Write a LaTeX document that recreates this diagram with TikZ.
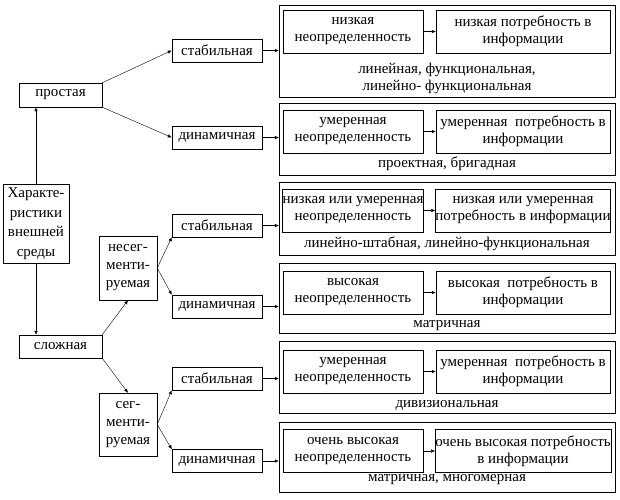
\documentclass[tikz,border=0pt]{standalone}
\usepackage{fontspec}
\setmainfont{Liberation Serif}
\usetikzlibrary{arrows.meta}

\begin{document}
\begin{tikzpicture}[x=1pt,y=-1pt,
  every node/.style={font=\fontsize{15}{17}\selectfont,align=center,inner sep=0pt},
  kind/.style={draw,minimum width=90,minimum height=23},
  outer/.style={draw,minimum width=336},
  lbox/.style={draw,minimum width=140,minimum height=43},
  rbox/.style={draw,minimum width=174,minimum height=43},
  arr/.style={-{Latex[length=4pt,width=3.5pt]}}]

  \useasboundingbox (0,0) rectangle (620,499);

  \node[draw,minimum width=66,minimum height=79,font=\fontsize{15}{19.5}\selectfont] (env) at (36,223.5) {Характе-\\ристики\\внешней\\среды};
  \node[draw,minimum width=83,minimum height=24] (simple) at (60.5,95) {простая};
  \node[draw,minimum width=83,minimum height=23] (complex) at (60.5,346.5) {сложная};
  \node[draw,minimum width=58,minimum height=64,font=\fontsize{15}{18}\selectfont] (nonseg) at (128,268) {несег-\\менти-\\руемая};
  \node[draw,minimum width=58,minimum height=63,font=\fontsize{15}{18}\selectfont] (seg) at (128,424.5) {сег-\\менти-\\руемая};

  \node[kind] (s1) at (217,50.5) {стабильная};
  \node[kind] (d1) at (217,137.5) {динамичная};
  \node[kind] (s2) at (217,225.5) {стабильная};
  \node[kind] (d2) at (217,306.5) {динамичная};
  \node[kind] (s3) at (217,378.5) {стабильная};
  \node[kind] (d3) at (217,461) {динамичная};

  \node[outer,minimum height=92] (o1) at (447,51) {};
  \node[outer,minimum height=72] (o2) at (447,139) {};
  \node[outer,minimum height=73] (o3) at (447,218.5) {};
  \node[outer,minimum height=70] (o4) at (447,298) {};
  \node[outer,minimum height=72] (o5) at (447,377) {};
  \node[outer,minimum height=70] (o6) at (447,457) {};

  \node[lbox] (u1) at (353,31.5) {низкая\\неопределенность};
  \node[rbox] (n1) at (523,31.5) {низкая потребность в\\информации};
  \node[lbox] (u2) at (353,131.5) {умеренная\\неопределенность};
  \node[rbox] (n2) at (523,131.5) {умеренная\ \ потребность в\\информации};
  \node[lbox] (u3) at (353,210.5) {низкая или умеренная\\неопределенность};
  \node[rbox] (n3) at (523,210.5) {низкая или умеренная\\потребность в информации};
  \node[lbox] (u4) at (353,292.5) {высокая\\неопределенность};
  \node[rbox] (n4) at (523,292.5) {высокая\ \ потребность в\\информации};
  \node[lbox] (u5) at (353,371.5) {умеренная\\неопределенность};
  \node[rbox] (n5) at (523,371.5) {умеренная\ \ потребность в\\информации};
  \node[lbox] (u6) at (353,451) {очень высокая\\неопределенность};
  \node[rbox] (n6) at (523,451) {очень высокая потребность\\в информации};

  \node (t1) at (447,78.5) {линейная, функциональная,\\линейно- функциональная};
  \node (t2) at (447,164) {проектная, бригадная};
  \node (t3) at (447,244) {линейно-штабная, линейно-функциональная};
  \node (t4) at (447,326) {матричная};
  \node (t5) at (447,405) {дивизиональная};
  \node (t6) at (447,480) {матричная, многомерная};

  \draw[arr] (env.north) -- (env.north |- simple.south);
  \draw[arr] (env.south) -- (env.south |- complex.north);
  \draw[arr] (simple.north east) -- (s1.west);
  \draw[arr] (simple.south east) -- (d1.west);
  \draw[arr] (complex.north east) -- (nonseg.south);
  \draw[arr] (complex.south east) -- (seg.north);
  \draw[arr] (nonseg.east) -- (s2.south west);
  \draw[arr] (nonseg.east) -- (d2.north west);
  \draw[arr] (seg.east) -- (s3.south west);
  \draw[arr] (seg.east) -- (d3.north west);

  \draw[arr] (s1.east) -- (s1.east -| o1.west);
  \draw[arr] (d1.east) -- (d1.east -| o2.west);
  \draw[arr] (s2.east) -- (s2.east -| o3.west);
  \draw[arr] (d2.east) -- (d2.east -| o4.west);
  \draw[arr] (s3.east) -- (s3.east -| o5.west);
  \draw[arr] (d3.east) -- (d3.east -| o6.west);

  \draw[arr] (u1.east) -- (n1.west);
  \draw[arr] (u2.east) -- (n2.west);
  \draw[arr] (u3.east) -- (n3.west);
  \draw[arr] (u4.east) -- (n4.west);
  \draw[arr] (u5.east) -- (n5.west);
  \draw[arr] (u6.east) -- (n6.west);

\end{tikzpicture}
\end{document}
